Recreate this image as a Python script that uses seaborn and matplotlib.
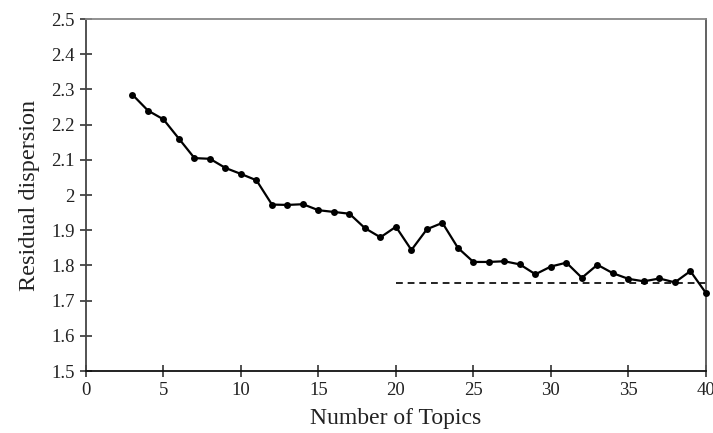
import numpy as np
import pandas as pd
import matplotlib
matplotlib.use("Agg")
import matplotlib.pyplot as plt
import seaborn as sns
from matplotlib.ticker import FuncFormatter, MultipleLocator

topics = list(range(3, 41))
dispersion = [
    2.285, 2.240, 2.215, 2.160, 2.105, 2.103, 2.077, 2.060, 2.042, 1.973,
    1.972, 1.974, 1.957, 1.952, 1.947, 1.906, 1.880, 1.910, 1.844, 1.903,
    1.921, 1.850, 1.810, 1.810, 1.812, 1.803, 1.775, 1.797, 1.808, 1.765,
    1.802, 1.778, 1.762, 1.755, 1.763, 1.752, 1.784, 1.722,
]
threshold_x = [20, 40]
threshold_y = [1.75, 1.75]

df = pd.DataFrame({"topics": topics, "dispersion": dispersion})
ref_df = pd.DataFrame({"topics": threshold_x, "dispersion": threshold_y})

sns.set_style("white")
plt.rcParams["font.family"] = ["Liberation Serif", "DejaVu Serif"]

fig = plt.figure(figsize=(7.13, 4.33), dpi=100)
ax = fig.add_axes([0.1206, 0.143, 0.8694, 0.813])

sns.lineplot(data=ref_df, x="topics", y="dispersion", ax=ax, color="#222222",
             linewidth=1.4, linestyle=(0, (3.5, 2.5)))
sns.lineplot(data=df, x="topics", y="dispersion", ax=ax, color="black",
             linewidth=1.6, marker="o", markersize=5, markeredgewidth=0,
             clip_on=False, zorder=5)

ax.set_xlim(0, 40)
ax.set_ylim(1.5, 2.5)
ax.xaxis.set_major_locator(MultipleLocator(5))
ax.yaxis.set_major_locator(MultipleLocator(0.1))
ax.yaxis.set_major_formatter(FuncFormatter(lambda v, _: f"{round(v, 2):g}"))

ax.tick_params(bottom=True, left=True, direction="inout", length=8, width=1.2,
               labelsize=13.5, colors="#333333", labelcolor="#222222", pad=4)

for side in ["left", "bottom"]:
    ax.spines[side].set_color("#444444")
    ax.spines[side].set_linewidth(1.3)
ax.spines["bottom"].set_color("#111111")
ax.spines["top"].set_color("#888888")
ax.spines["top"].set_linewidth(1.3)
ax.spines["right"].set_color("#555555")
ax.spines["right"].set_linewidth(1.3)

ax.set_xlabel("Number of Topics", fontsize=17, color="#222222", labelpad=6)
ax.set_ylabel("Residual dispersion", fontsize=17.5, color="#222222", labelpad=8)

fig.savefig("out.png", dpi=100)
